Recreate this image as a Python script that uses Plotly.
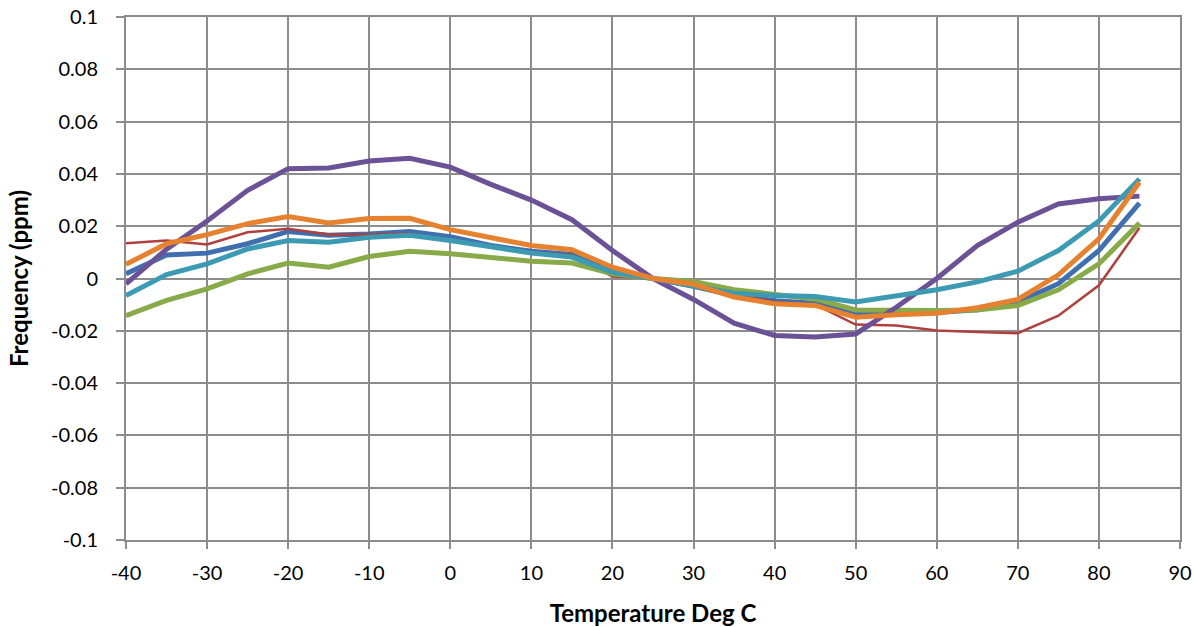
import plotly.graph_objects as go

# ── Data ───────────────────────────────────────────────────────────────────
temps = [-40, -35, -30, -25, -20, -15, -10, -5, 0, 5, 10, 15, 20, 25,
         30, 35, 40, 45, 50, 55, 60, 65, 70, 75, 80, 85]

s_blue = [0.0018, 0.009, 0.0097, 0.0133, 0.018, 0.0165, 0.017, 0.018, 0.016, 0.0126,
          0.0104, 0.0092, 0.003, 0.0, -0.003, -0.0065, -0.0085, -0.0095, -0.0138, -0.013,
          -0.013, -0.012, -0.009, -0.002, 0.0107, 0.0288]
s_red = [0.0135, 0.0145, 0.013, 0.0177, 0.019, 0.0168, 0.0168, 0.0172, 0.0142, 0.012,
         0.010, 0.009, 0.0008, 0.0, -0.002, -0.006, -0.009, -0.010, -0.0176, -0.018,
         -0.0199, -0.0205, -0.0209, -0.0142, -0.0026, 0.0194]
s_green = [-0.0142, -0.0084, -0.004, 0.0018, 0.0059, 0.0043, 0.0084, 0.0104, 0.0095, 0.0082,
           0.0066, 0.0059, 0.0018, 0.0, -0.0011, -0.0043, -0.0061, -0.0078, -0.012, -0.0122,
           -0.0122, -0.012, -0.0103, -0.0043, 0.0056, 0.0212]
s_purple = [-0.002, 0.0112, 0.022, 0.0337, 0.042, 0.0423, 0.0449, 0.046, 0.0426, 0.036,
            0.030, 0.0225, 0.0107, 0.0, -0.008, -0.0171, -0.0218, -0.0224, -0.0212, -0.011,
            0.0, 0.0126, 0.0215, 0.0285, 0.0305, 0.0315]
s_teal = [-0.0065, 0.0015, 0.0056, 0.0113, 0.0145, 0.0139, 0.0158, 0.0165, 0.0145, 0.012,
          0.0097, 0.0082, 0.0024, 0.0, -0.0027, -0.0056, -0.0065, -0.0069, -0.009, -0.0065,
          -0.0043, -0.0013, 0.0028, 0.0107, 0.022, 0.0381]
s_orange = [0.0054, 0.0133, 0.0168, 0.021, 0.0237, 0.0212, 0.0229, 0.023, 0.0187, 0.0158,
            0.0126, 0.011, 0.0043, 0.0, -0.0022, -0.0071, -0.0097, -0.0103, -0.0148, -0.0139,
            -0.0133, -0.0112, -0.008, 0.0014, 0.0152, 0.0368]

y_ticks = [0.1, 0.08, 0.06, 0.04, 0.02, 0, -0.02, -0.04, -0.06, -0.08, -0.1]
y_labels = ['0.1', '0.08', '0.06', '0.04', '0.02', '0', '-0.02', '-0.04', '-0.06', '-0.08', '-0.1']
x_ticks = [-40, -30, -20, -10, 0, 10, 20, 30, 40, 50, 60, 70, 80, 90]
x_labels = ['-40', '-30', '-20', '-10', '0', '10', '20', '30', '40', '50', '60', '70', '80', '90']

# ── Styles ─────────────────────────────────────────────────────────────────
FONT = 'Lato, Open Sans, sans-serif'
GRID = '#8c8c8c'

series = [
    (s_blue, '#3f6fae', 5),
    (s_red, '#b0403d', 2.5),
    (s_green, '#88aa48', 5),
    (s_purple, '#6b5195', 5),
    (s_teal, '#3c9ab3', 5),
    (s_orange, '#e6822f', 5),
]

fig = go.Figure()
for vals, color, width in series:
    fig.add_trace(go.Scatter(
        x=temps, y=vals, mode='lines',
        line=dict(color=color, width=width),
        showlegend=False,
    ))

fig.update_layout(
    width=1194, height=627,
    paper_bgcolor='white', plot_bgcolor='white',
    font=dict(family=FONT, color='black', size=20),
    margin=dict(l=126, r=14, t=17, b=87),
    showlegend=False,
    xaxis=dict(
        range=[-40, 90], tickvals=x_ticks, ticktext=x_labels,
        showgrid=True, gridcolor=GRID, gridwidth=2,
        showline=True, linecolor=GRID, linewidth=2, mirror=True,
        zeroline=False, ticks='outside', ticklen=7, tickcolor=GRID, tickwidth=2,
        ticklabelstandoff=7, ticklabeloverflow='allow', automargin=False,
        title=dict(text='<b>Temperature Deg C</b>', font=dict(size=24), standoff=22),
    ),
    yaxis=dict(
        range=[-0.1, 0.1], tickvals=y_ticks, ticktext=y_labels,
        showgrid=True, gridcolor=GRID, gridwidth=2,
        showline=True, linecolor=GRID, linewidth=2, mirror=True,
        zeroline=False, ticks='outside', ticklen=8, tickcolor=GRID, tickwidth=2,
        ticklabelstandoff=14, ticklabeloverflow='allow', automargin=False,
        title=dict(text='<b>Frequency (ppm)</b>', font=dict(size=24), standoff=16),
    ),
)

# drop the default 8px body margin so the figure fills the window exactly
fig.write_html('out.html', config={'displayModeBar': False},
               post_script="document.body.style.margin='0';")
